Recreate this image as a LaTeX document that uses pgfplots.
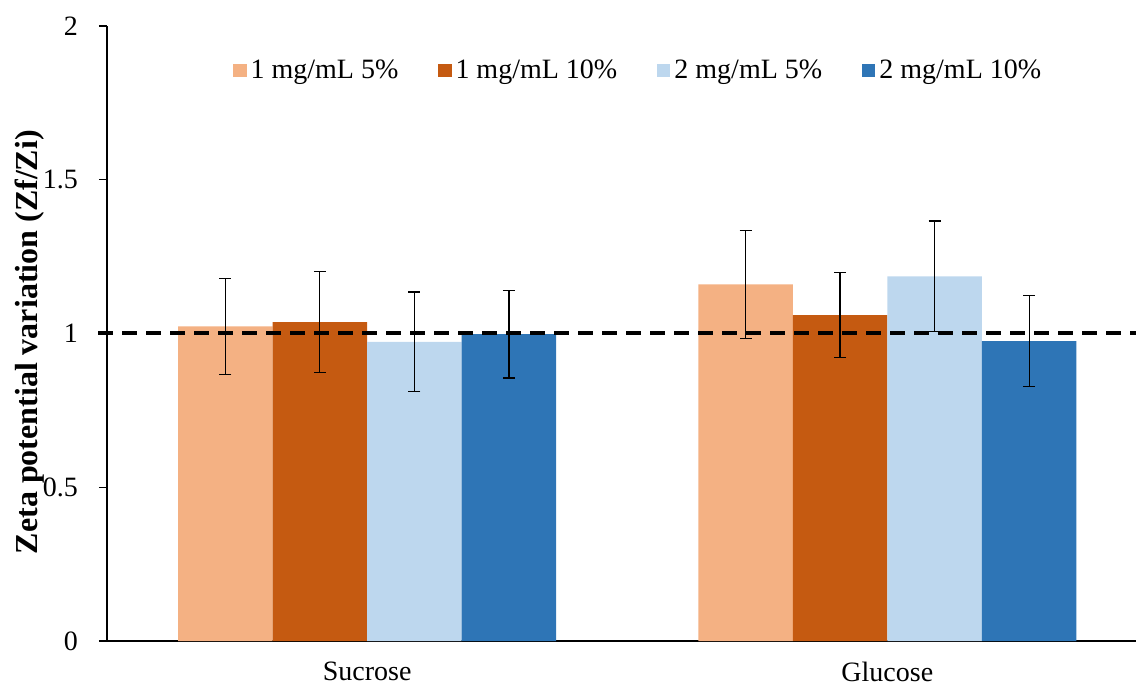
\documentclass[border=0pt]{standalone}
\usepackage{pgfplots}
\pgfplotsset{compat=1.18}
\usepackage{fontspec}
\setmainfont{Liberation Serif}
\definecolor{lorange}{HTML}{F4B183}
\definecolor{dorange}{HTML}{C55A11}
\definecolor{lblue}{HTML}{BDD7EE}
\definecolor{dblue}{HTML}{2E75B6}
\begin{document}
\begin{tikzpicture}
\begin{axis}[
  scale only axis,
  width=514.5pt, height=307.5pt,
  xmin=-0.5, xmax=1.478,
  ymin=0, ymax=2,
  clip=false,
  axis x line*=bottom, axis y line*=left,
  axis line style={black, line width=0.6pt},
  ybar, bar width=0.1817,
  xtick={0,1}, xticklabels={Sucrose,Glucose},
  x tick style={draw=none},
  extra x ticks={-0.5,0.5},
  extra x tick labels={},
  extra x tick style={tick align=outside, major tick length=4.5pt, tick style={draw=black, line width=0.6pt}},
  ytick={0,0.5,1,1.5,2},
  yticklabels={0,0.5,1,1.5,2},
  tick align=outside,
  major tick length=4pt,
  y tick style={black, line width=0.6pt},
  tick label style={font=\fontsize{14}{16}\selectfont},
  x tick label style={yshift=-2.8pt},
  y tick label style={xshift=-7pt},
  ylabel={Zeta potential variation (Zf/Zi)},
  ylabel style={font=\fontsize{16}{18}\selectfont\bfseries, at={(axis description cs:-0.0748,0.486)}, anchor=center},
  legend style={at={(axis description cs:0.1224,0.928)}, anchor=west, draw=none, fill=none,
    font=\fontsize{14}{16}\selectfont, legend columns=-1,
    /tikz/every even column/.append style={column sep=18pt},
    inner sep=0pt},
  legend image code/.code={\fill[#1] (0pt,-3.3pt) rectangle (6.6pt,3.3pt);},
  error bars/y dir=both, error bars/y explicit,
  error bars/error bar style={black, line width=0.6pt},
  error bars/error mark options={black, line width=0.6pt, mark size=3pt, rotate=90},
]
\coordinate (bl) at (rel axis cs:0,0);
\coordinate (tr) at (rel axis cs:1,1);
\addplot[fill=lorange, draw=none, bar shift=-0.2726] coordinates {(0,1.023) +- (0,0.157) (1,1.160) +- (0,0.176)};
\addplot[fill=dorange, draw=none, bar shift=-0.0909] coordinates {(0,1.037) +- (0,0.165) (1,1.060) +- (0,0.139)};
\addplot[fill=lblue, draw=none, bar shift=0.0909] coordinates {(0,0.973) +- (0,0.162) (1,1.186) +- (0,0.180)};
\addplot[fill=dblue, draw=none, bar shift=0.2726] coordinates {(0,0.998) +- (0,0.143) (1,0.975) +- (0,0.1475)};
\legend{1 mg/mL 5\%, 1 mg/mL 10\%, 2 mg/mL 5\%, 2 mg/mL 10\%}
\addplot[sharp plot, black, line width=2pt, dash pattern=on 7.5pt off 4.5pt, forget plot] coordinates {(-0.517,1) (1.478,1)};
\end{axis}
\pgfresetboundingbox
\path ([xshift=-53.5pt,yshift=-22.5pt]bl) rectangle ([yshift=13pt]tr);
\end{tikzpicture}
\end{document}
